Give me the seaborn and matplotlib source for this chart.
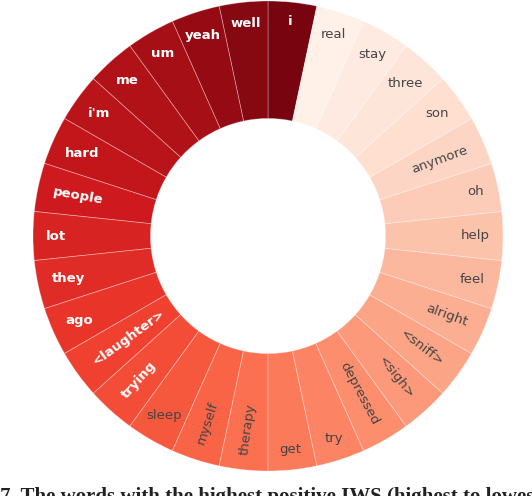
import numpy as np
import matplotlib
matplotlib.use("Agg")
import matplotlib.pyplot as plt
import seaborn as sns

# words ranked by IWS, highest first
words = ["i", "well", "yeah", "um", "me", "i'm", "hard", "people", "lot", "they",
         "ago", "<laughter>", "trying", "sleep", "myself", "therapy", "get", "try",
         "depressed", "<sigh>", "<sniff>", "alright", "feel", "help", "oh",
         "anymore", "son", "three", "stay", "real"]
# every word gets the same slice
slice_sizes = [1] * len(words)
caption = "7. The words with the highest positive IWS (highest to lowest)"

# label rotation in degrees, as in the reference
label_rotation = [0, 0, 0, 0, 0, 0, 0, -10, 0, 0,
                  0, 36, 48, 0, 72, 82, 0, 0,
                  -62, -52, -38, -20, 0, 0, 0,
                  20, 0, 0, 0, 0]

sns.set_theme(style="white")
plt.rcParams['font.family'] = ['DejaVu Sans']

fig = plt.figure(figsize=(5.32, 4.96), dpi=100)
R_px = 235
ax = fig.add_axes([(268 - R_px) / 532, (260 - R_px) / 496, 2 * R_px / 532, 2 * R_px / 496])

colors = sns.color_palette("Reds_r", len(words))
wedges, _ = ax.pie(slice_sizes, colors=colors, startangle=78, counterclock=True,
                   radius=1.0,
                   wedgeprops=dict(width=0.5, edgecolor=(1, 1, 1, 0.35), linewidth=0.6))
ax.set_xlim(-1, 1)
ax.set_ylim(-1, 1)
ax.set_aspect('equal')
ax.axis('off')

renderer = fig.canvas.get_renderer()
scale = ax.get_window_extent().width / 2.0  # px per data unit

# labels sit with their outer end near the rim
for i, (w, word) in enumerate(zip(wedges, words)):
    mid = np.deg2rad((w.theta1 + w.theta2) / 2)
    ux, uy = np.cos(mid), np.sin(mid)
    dark = i < 13
    t = ax.text(0, 0, word, ha='center', va='center', rotation=label_rotation[i],
                fontsize=9.5, fontweight='bold' if dark else 'normal',
                color='white' if dark else '#444444')
    bb = t.get_window_extent(renderer=renderer)
    ext = (bb.width / 2 * abs(ux) + bb.height / 2 * abs(uy)) / scale
    r = 0.945 - ext
    t.set_position((r * ux, r * uy))

# caption of the source figure, cut off at the bottom edge
fig.text(0.0, 1 - 487 / 496, caption, ha='left', va='top', fontsize=15,
         family='Liberation Serif', fontweight='bold', color='#222222')

fig.savefig("out.png", dpi=100, facecolor='white')
